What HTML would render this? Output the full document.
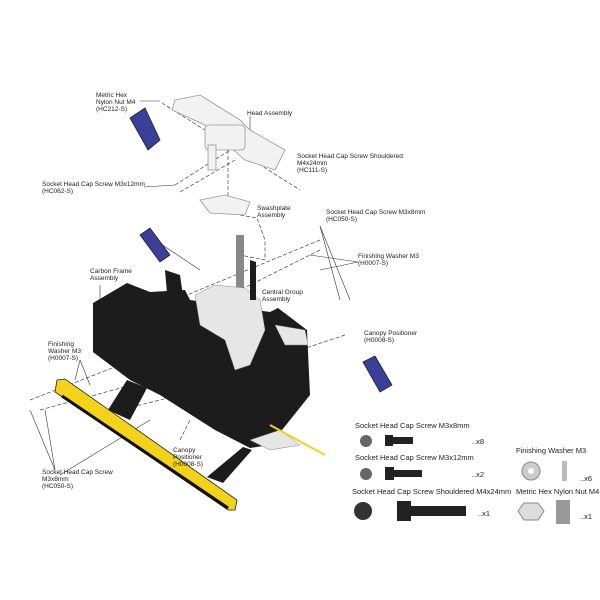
<!DOCTYPE html>
<html><head><style>
body{margin:0;background:#fff}
svg{display:block}
text{font-family:"Liberation Sans",sans-serif;font-size:6.5px;fill:#222}
.b text{font-size:7.5px}
</style></head><body>
<svg width="600" height="600" viewBox="0 0 600 600">
<g stroke="#444" stroke-width="0.7" stroke-dasharray="4 2" fill="none">
<line x1="162" y1="103" x2="300" y2="190"/>
<line x1="175" y1="185" x2="230" y2="150"/>
<line x1="180" y1="192" x2="235" y2="160"/>
<line x1="228" y1="150" x2="228" y2="200"/>
<line x1="320" y1="240" x2="175" y2="300"/>
<line x1="320" y1="250" x2="200" y2="310"/>
<line x1="345" y1="335" x2="300" y2="350"/>
<polyline points="240,215 257,218 265,240 265,260 240,255 240,290"/>
<line x1="30" y1="400" x2="120" y2="365"/>
<line x1="40" y1="410" x2="150" y2="380"/>
<line x1="120" y1="410" x2="200" y2="390"/>
<line x1="180" y1="440" x2="190" y2="420"/>
</g>
<g stroke="#333" stroke-width="0.6" fill="none">
<line x1="140" y1="101" x2="160" y2="101"/>
<line x1="250" y1="116" x2="250" y2="140"/>
<line x1="144" y1="187" x2="175" y2="185"/>
<line x1="320" y1="226" x2="350" y2="300"/>
<line x1="320" y1="226" x2="340" y2="300"/>
<line x1="358" y1="262" x2="310" y2="255"/>
<line x1="358" y1="262" x2="320" y2="270"/>
<line x1="100" y1="285" x2="100" y2="305"/>
<line x1="80" y1="360" x2="75" y2="380"/>
<line x1="80" y1="360" x2="90" y2="385"/>
<line x1="55" y1="470" x2="45" y2="410"/>
<line x1="55" y1="470" x2="30" y2="410"/>
<line x1="60" y1="475" x2="150" y2="420"/>
<line x1="155" y1="240" x2="200" y2="270"/>
</g>
<!-- head assembly -->
<g fill="#f2f2f2" stroke="#999" stroke-width="0.8">
<polygon points="175,100 200,95 240,120 250,130 285,150 275,170 245,160 205,125 172,110"/>
<rect x="205" y="125" width="40" height="25" rx="4"/>
<rect x="208" y="145" width="8" height="25"/>
<polygon points="200,200 225,195 250,202 245,215 210,213"/>
</g>
<!-- bottles -->
<g fill="#3a3f9a" stroke="#222" stroke-width="0.8">
<polygon points="130,118 145,108 160,140 148,150"/>
<polygon points="140,235 150,228 170,255 160,262"/>
<polygon points="363,362 375,356 392,385 380,392"/>
</g>
<!-- shaft -->
<rect x="236" y="235" width="8" height="60" fill="#888"/>
<!-- frame dark -->
<g fill="#1c1c1c">
<polygon points="93,303 127,283 150,292 185,290 190,300 270,312 278,308 307,330 310,395 290,420 270,445 250,448 215,430 160,395 130,380 93,352"/>
<polygon points="108,410 127,380 147,388 130,420"/>
<polygon points="207,477 243,447 252,450 223,483"/>
<polygon points="165,270 180,275 185,310 168,305"/>
</g>
<g fill="#e6e6e6" stroke="#888" stroke-width="0.5">
<polygon points="195,295 215,285 245,288 260,300 265,330 250,365 235,370 225,340 200,325"/>
<polygon points="275,325 305,330 308,345 285,345"/>
<polygon points="250,440 280,430 300,445 270,450"/>
</g>
<polygon points="250,260 256,262 256,300 250,300" fill="#1c1c1c"/>
<!-- yellow skid -->
<polygon points="57,380 65,379 237,500 235,510 228,510 55,392" fill="#f2d21a" stroke="#222" stroke-width="0.8"/>
<line x1="62" y1="396" x2="228" y2="508" stroke="#111" stroke-width="3"/>
<line x1="270" y1="425" x2="325" y2="455" stroke="#f2d21a" stroke-width="2"/>
<!-- labels -->
<text x="96" y="97">Metric Hex</text><text x="96" y="104">Nylon Nut M4</text><text x="96" y="111">(HC212-S)</text>
<text x="247" y="115">Head Assembly</text>
<text x="297" y="158">Socket Head Cap Screw Shouldered</text><text x="297" y="165">M4x24mm</text><text x="297" y="172">(HC111-S)</text>
<text x="42" y="186">Socket Head Cap Screw M3x12mm</text><text x="42" y="193">(HC062-S)</text>
<text x="257" y="210">Swashplate</text><text x="257" y="217">Assembly</text>
<text x="326" y="214">Socket Head Cap Screw M3x8mm</text><text x="326" y="221">(HC050-S)</text>
<text x="358" y="258">Finishing Washer M3</text><text x="358" y="265">(H0007-S)</text>
<text x="90" y="273">Carbon Frame</text><text x="90" y="280">Assembly</text>
<text x="262" y="294">Central Group</text><text x="262" y="301">Assembly</text>
<text x="364" y="335">Canopy Positioner</text><text x="364" y="342">(H0008-S)</text>
<text x="48" y="346">Finishing</text><text x="48" y="353">Washer M3</text><text x="48" y="360">(H0007-S)</text>
<text x="173" y="452">Canopy</text><text x="173" y="459">Positioner</text><text x="173" y="466">(H0008-S)</text>
<text x="42" y="474">Socket Head Cap Screw</text><text x="42" y="481">M3x8mm</text><text x="42" y="488">(HC050-S)</text>
<g class="b">
<text x="355" y="428">Socket Head Cap Screw M3x8mm</text>
<text x="355" y="460">Socket Head Cap Screw M3x12mm</text>
<text x="352" y="494">Socket Head Cap Screw Shouldered M4x24mm</text>
<text x="516" y="453">Finishing Washer M3</text>
<text x="516" y="494">Metric Hex Nylon Nut M4</text>
<text x="472" y="444">..x8</text><text x="472" y="477">..x2</text><text x="478" y="516">..x1</text>
<text x="580" y="481">..x6</text><text x="580" y="519">..x1</text>
</g>
<!-- hardware -->
<circle cx="366" cy="441" r="6" fill="#666"/><rect x="385" y="435" width="8" height="11" fill="#222"/><rect x="393" y="437" width="20" height="7" fill="#222"/>
<circle cx="366" cy="474" r="6" fill="#666"/><rect x="385" y="467" width="9" height="13" fill="#222"/><rect x="394" y="470" width="28" height="7" fill="#222"/>
<circle cx="363" cy="511" r="9" fill="#333"/><rect x="397" y="501" width="14" height="20" fill="#222"/><rect x="411" y="506" width="55" height="10" fill="#222"/>
<circle cx="531" cy="471" r="9" fill="#ccc" stroke="#888"/><circle cx="531" cy="471" r="3" fill="#fff"/><rect x="562" y="461" width="5" height="20" fill="#bbb"/>
<polygon points="524,503 538,503 544,511 538,520 524,520 518,511" fill="#ddd" stroke="#888"/><rect x="556" y="500" width="14" height="24" fill="#999"/>
</svg>
</body></html>
